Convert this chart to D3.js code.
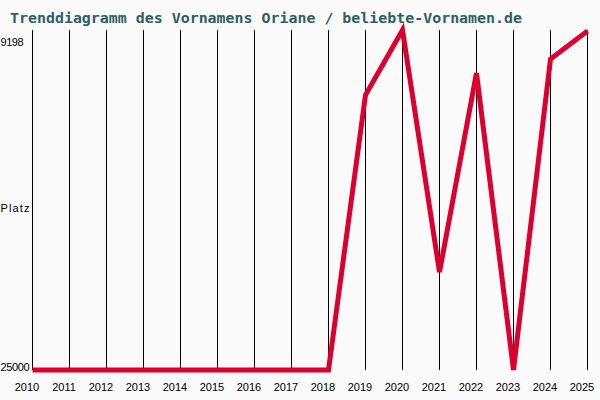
<!DOCTYPE html>
<html><head><meta charset="utf-8">
<script src="https://cdn.jsdelivr.net/npm/d3@7"></script>
<style>html,body{margin:0;padding:0;background:#fafafa;}svg{display:block;}</style>
</head><body>
<svg id="c" width="600" height="400"></svg>
<script>
const years = [2010,2011,2012,2013,2014,2015,2016,2017,2018,2019,2020,2021,2022,2023,2024,2025];
const ranks = [25000,25000,25000,25000,25000,25000,25000,25000,25000,12220,9198,20450,11200,25000,10550,9250];
const yTickLabels = ["9198","25000"];
const titleText = "Trenddiagramm des Vornamens Oriane / beliebte-Vornamen.de";
const yAxisLabel = "Platz";

const svg = d3.select("#c");
svg.append("rect").attr("width",600).attr("height",400).attr("fill","#fafafa");

const x = d3.scaleLinear().domain([2010,2025]).range([32.5,587.5]);
const y = d3.scaleLinear().domain([9198,25000]).range([30,370]);

// vertical grid lines
svg.append("g").selectAll("line").data(years).join("line")
  .attr("x1",d=>x(d)).attr("x2",d=>x(d))
  .attr("y1",30).attr("y2",370)
  .attr("stroke","#000").attr("stroke-width",1);

// year labels
svg.append("g").selectAll("text").data(years).join("text")
  .attr("x",d=>x(d)-5.5).attr("y",391)
  .attr("text-anchor","middle")
  .attr("font-family","Liberation Sans, Arial, sans-serif")
  .attr("font-size",11).attr("fill","#000")
  .text(d=>d);

// y labels
svg.append("text").attr("x",0.5).attr("y",46)
  .attr("font-family","Liberation Sans, Arial, sans-serif").attr("font-size",11)
  .attr("textLength",23).attr("fill","#000").text(yTickLabels[0]);
svg.append("text").attr("x",0.5).attr("y",370.5)
  .attr("font-family","Liberation Sans, Arial, sans-serif").attr("font-size",11)
  .attr("textLength",29).attr("fill","#000").text(yTickLabels[1]);
svg.append("text").attr("x",0.5).attr("y",211.5)
  .attr("font-family","Liberation Sans, Arial, sans-serif").attr("font-size",11)
  .attr("textLength",29).attr("fill","#000").text(yAxisLabel);

// title
svg.append("text").attr("x",10).attr("y",23)
  .attr("font-family","DejaVu Sans Mono, monospace").attr("font-weight","bold")
  .attr("font-size",14).attr("textLength",512).attr("lengthAdjust","spacingAndGlyphs")
  .attr("fill","#2f5f5f").text(titleText);

// line
const line = d3.line().x((d,i)=>x(years[i])).y(d=>y(d));
svg.append("path").datum(ranks)
  .attr("d",line).attr("fill","none")
  .attr("stroke","#dc0030").attr("stroke-width",5)
  .attr("stroke-linejoin","miter").attr("stroke-linecap","butt");
</script>
</body></html>
